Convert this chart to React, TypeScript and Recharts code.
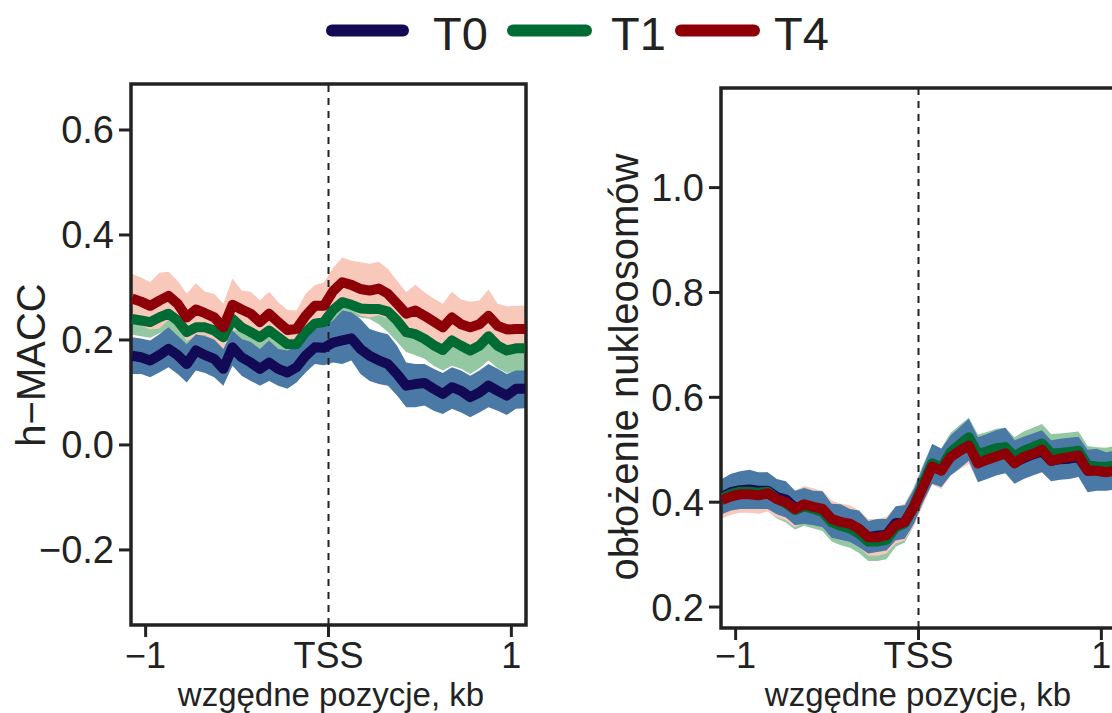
import React from 'react';
import { ComposedChart, Area, Line, XAxis, YAxis, ReferenceLine, ReferenceArea } from 'recharts';

// positions relative to TSS, kb
const positions = [
  -1.075, -1.025, -0.975, -0.925, -0.875, -0.825, -0.775, -0.725, -0.675, -0.625, -0.575,
  -0.525, -0.475, -0.425, -0.375, -0.325, -0.275, -0.225, -0.175, -0.125, -0.075, -0.025,
  0.025, 0.075, 0.125, 0.175, 0.225, 0.275, 0.325, 0.375, 0.425, 0.475, 0.525, 0.575,
  0.625, 0.675, 0.725, 0.775, 0.825, 0.875, 0.925, 0.975, 1.025, 1.075,
];

const seriesNames = ['T0', 'T1', 'T4'];

// left panel: h-MACC
const macT0 = [0.170, 0.167, 0.161, 0.171, 0.183, 0.171, 0.154, 0.180, 0.171, 0.164, 0.145, 0.186, 0.167, 0.157, 0.145, 0.157, 0.145, 0.138, 0.148, 0.170, 0.186, 0.185, 0.195, 0.199, 0.203, 0.183, 0.170, 0.161, 0.154, 0.135, 0.113, 0.116, 0.118, 0.107, 0.097, 0.110, 0.103, 0.091, 0.100, 0.113, 0.103, 0.094, 0.107, 0.107];
const macT0Lo = [0.135, 0.135, 0.129, 0.138, 0.148, 0.135, 0.119, 0.142, 0.137, 0.129, 0.113, 0.151, 0.132, 0.122, 0.113, 0.122, 0.113, 0.107, 0.119, 0.138, 0.154, 0.152, 0.157, 0.154, 0.161, 0.135, 0.122, 0.116, 0.113, 0.094, 0.072, 0.072, 0.075, 0.065, 0.059, 0.069, 0.062, 0.053, 0.062, 0.072, 0.065, 0.057, 0.069, 0.070];
const macT0Hi = [0.205, 0.203, 0.199, 0.211, 0.224, 0.208, 0.192, 0.211, 0.207, 0.201, 0.183, 0.218, 0.202, 0.196, 0.183, 0.199, 0.183, 0.180, 0.186, 0.211, 0.221, 0.226, 0.237, 0.256, 0.253, 0.240, 0.221, 0.215, 0.211, 0.189, 0.157, 0.154, 0.154, 0.145, 0.137, 0.148, 0.142, 0.132, 0.142, 0.154, 0.145, 0.135, 0.142, 0.142];
const macT1 = [0.240, 0.237, 0.234, 0.243, 0.250, 0.237, 0.215, 0.224, 0.224, 0.218, 0.205, 0.240, 0.224, 0.215, 0.205, 0.218, 0.205, 0.192, 0.192, 0.215, 0.231, 0.234, 0.257, 0.272, 0.267, 0.260, 0.259, 0.259, 0.254, 0.237, 0.215, 0.211, 0.202, 0.190, 0.181, 0.199, 0.189, 0.180, 0.189, 0.207, 0.189, 0.180, 0.184, 0.184];
const macT1Lo = [0.210, 0.207, 0.204, 0.213, 0.220, 0.207, 0.185, 0.194, 0.194, 0.188, 0.175, 0.210, 0.194, 0.185, 0.175, 0.188, 0.175, 0.162, 0.162, 0.185, 0.201, 0.204, 0.235, 0.250, 0.246, 0.243, 0.240, 0.230, 0.215, 0.196, 0.177, 0.171, 0.164, 0.151, 0.142, 0.151, 0.145, 0.135, 0.146, 0.161, 0.146, 0.137, 0.140, 0.140];
const macT1Hi = [0.270, 0.267, 0.264, 0.273, 0.280, 0.267, 0.245, 0.254, 0.254, 0.248, 0.235, 0.270, 0.254, 0.245, 0.235, 0.248, 0.235, 0.222, 0.222, 0.245, 0.261, 0.264, 0.279, 0.294, 0.288, 0.277, 0.278, 0.288, 0.293, 0.278, 0.253, 0.251, 0.240, 0.229, 0.220, 0.247, 0.233, 0.225, 0.232, 0.253, 0.232, 0.223, 0.228, 0.228];
const macT4 = [0.279, 0.273, 0.265, 0.275, 0.284, 0.269, 0.243, 0.258, 0.251, 0.243, 0.224, 0.267, 0.258, 0.250, 0.234, 0.250, 0.234, 0.219, 0.221, 0.246, 0.265, 0.265, 0.293, 0.310, 0.305, 0.297, 0.294, 0.298, 0.288, 0.269, 0.250, 0.256, 0.246, 0.235, 0.224, 0.243, 0.230, 0.224, 0.230, 0.246, 0.227, 0.220, 0.221, 0.221];
const macT4Lo = [0.232, 0.227, 0.220, 0.222, 0.238, 0.225, 0.198, 0.208, 0.210, 0.198, 0.179, 0.217, 0.222, 0.208, 0.193, 0.208, 0.196, 0.181, 0.186, 0.204, 0.226, 0.220, 0.249, 0.263, 0.259, 0.246, 0.243, 0.247, 0.241, 0.225, 0.209, 0.207, 0.201, 0.191, 0.179, 0.194, 0.183, 0.175, 0.185, 0.196, 0.185, 0.176, 0.177, 0.177];
const macT4Hi = [0.326, 0.319, 0.310, 0.328, 0.330, 0.313, 0.288, 0.308, 0.292, 0.288, 0.269, 0.317, 0.294, 0.292, 0.275, 0.292, 0.272, 0.257, 0.256, 0.288, 0.304, 0.310, 0.337, 0.357, 0.351, 0.348, 0.345, 0.349, 0.335, 0.313, 0.291, 0.305, 0.291, 0.279, 0.269, 0.292, 0.277, 0.273, 0.275, 0.296, 0.269, 0.264, 0.265, 0.265];

// right panel: nucleosome occupancy
const nucT0 = [0.410, 0.419, 0.423, 0.424, 0.422, 0.422, 0.410, 0.405, 0.389, 0.393, 0.389, 0.386, 0.364, 0.362, 0.355, 0.349, 0.333, 0.336, 0.338, 0.360, 0.362, 0.392, 0.433, 0.473, 0.465, 0.489, 0.503, 0.519, 0.481, 0.487, 0.494, 0.498, 0.476, 0.484, 0.491, 0.497, 0.479, 0.482, 0.483, 0.486, 0.460, 0.462, 0.458, 0.461];
const nucT0Lo = [0.377, 0.384, 0.387, 0.387, 0.387, 0.387, 0.377, 0.371, 0.356, 0.359, 0.356, 0.352, 0.332, 0.328, 0.324, 0.314, 0.302, 0.305, 0.308, 0.327, 0.330, 0.359, 0.400, 0.435, 0.429, 0.451, 0.464, 0.479, 0.438, 0.444, 0.451, 0.455, 0.435, 0.444, 0.451, 0.457, 0.440, 0.443, 0.444, 0.448, 0.419, 0.422, 0.422, 0.424];
const nucT0Hi = [0.444, 0.454, 0.459, 0.462, 0.457, 0.457, 0.444, 0.440, 0.422, 0.427, 0.422, 0.421, 0.397, 0.396, 0.387, 0.384, 0.364, 0.368, 0.368, 0.392, 0.394, 0.425, 0.467, 0.511, 0.502, 0.527, 0.543, 0.559, 0.524, 0.530, 0.537, 0.542, 0.518, 0.525, 0.531, 0.537, 0.518, 0.521, 0.523, 0.525, 0.500, 0.502, 0.495, 0.498];
const nucT1 = [0.407, 0.416, 0.420, 0.420, 0.418, 0.420, 0.406, 0.398, 0.385, 0.392, 0.387, 0.382, 0.362, 0.355, 0.350, 0.340, 0.325, 0.325, 0.328, 0.352, 0.360, 0.392, 0.435, 0.474, 0.466, 0.495, 0.510, 0.524, 0.492, 0.497, 0.503, 0.505, 0.487, 0.498, 0.505, 0.512, 0.493, 0.494, 0.496, 0.498, 0.470, 0.468, 0.467, 0.470];
const nucT1Lo = [0.370, 0.379, 0.383, 0.383, 0.381, 0.383, 0.369, 0.361, 0.348, 0.355, 0.350, 0.345, 0.325, 0.318, 0.313, 0.303, 0.288, 0.288, 0.291, 0.315, 0.323, 0.355, 0.398, 0.437, 0.429, 0.458, 0.473, 0.487, 0.455, 0.460, 0.466, 0.468, 0.450, 0.461, 0.468, 0.475, 0.456, 0.457, 0.459, 0.461, 0.433, 0.431, 0.430, 0.433];
const nucT1Hi = [0.444, 0.453, 0.457, 0.457, 0.455, 0.457, 0.443, 0.435, 0.422, 0.429, 0.424, 0.419, 0.399, 0.392, 0.387, 0.377, 0.362, 0.362, 0.365, 0.389, 0.397, 0.429, 0.472, 0.511, 0.503, 0.532, 0.547, 0.561, 0.529, 0.534, 0.540, 0.542, 0.524, 0.535, 0.542, 0.549, 0.530, 0.531, 0.533, 0.535, 0.507, 0.505, 0.504, 0.507];
const nucT4 = [0.404, 0.411, 0.415, 0.415, 0.413, 0.417, 0.406, 0.400, 0.387, 0.396, 0.391, 0.387, 0.368, 0.362, 0.359, 0.349, 0.333, 0.333, 0.337, 0.356, 0.362, 0.391, 0.429, 0.468, 0.460, 0.486, 0.498, 0.508, 0.474, 0.481, 0.487, 0.493, 0.474, 0.486, 0.492, 0.500, 0.479, 0.483, 0.486, 0.489, 0.460, 0.460, 0.457, 0.460];
const nucT4Lo = [0.369, 0.376, 0.380, 0.380, 0.378, 0.382, 0.371, 0.365, 0.352, 0.361, 0.356, 0.352, 0.333, 0.327, 0.324, 0.314, 0.298, 0.298, 0.302, 0.321, 0.327, 0.356, 0.394, 0.433, 0.425, 0.451, 0.463, 0.473, 0.439, 0.446, 0.452, 0.458, 0.439, 0.451, 0.457, 0.465, 0.444, 0.448, 0.451, 0.454, 0.425, 0.425, 0.422, 0.425];
const nucT4Hi = [0.439, 0.446, 0.450, 0.450, 0.448, 0.452, 0.441, 0.435, 0.422, 0.431, 0.426, 0.422, 0.403, 0.397, 0.394, 0.384, 0.368, 0.368, 0.372, 0.391, 0.397, 0.426, 0.464, 0.503, 0.495, 0.521, 0.533, 0.543, 0.509, 0.516, 0.522, 0.528, 0.509, 0.521, 0.527, 0.535, 0.514, 0.518, 0.521, 0.524, 0.495, 0.495, 0.492, 0.495];

const macTicks = [-0.2, 0, 0.2, 0.4, 0.6];
const nucTicks = [0.2, 0.4, 0.6, 0.8, 1.0];
const xTicks = [-1, 0, 1];

const lineColors = ['#120a55', '#006b32', '#8e0008'];
const bandColors = ['#4b79a6', '#93c8a3', '#f8c8ba'];
const INK = '#222';
const FONT = '"Liberation Sans", Arial, Helvetica, sans-serif';

const minus = (s: string) => s.replace('-', '\u2212');
const fmtY = (v: number) => minus(v.toFixed(1));
const fmtX = (v: number) => (v === 0 ? 'TSS' : minus(String(v)));

const buildRows = (mean: number[][], lo: number[][], hi: number[][]) =>
  positions.map((x, i) => ({
    x,
    t0: mean[0][i], t1: mean[1][i], t4: mean[2][i],
    t0Band: [lo[0][i], hi[0][i]],
    t1Band: [lo[1][i], hi[1][i]],
    t4Band: [lo[2][i], hi[2][i]],
  }));

const macRows = buildRows([macT0, macT1, macT4], [macT0Lo, macT1Lo, macT4Lo], [macT0Hi, macT1Hi, macT4Hi]);
const nucRows = buildRows([nucT0, nucT1, nucT4], [nucT0Lo, nucT1Lo, nucT4Lo], [nucT0Hi, nucT1Hi, nucT4Hi]);

interface PanelProps {
  rows: any[];
  yDomain: [number, number];
  yTicks: number[];
  width: number;
  xTickMargin: number;
  margin: { top: number; right: number; bottom: number; left: number };
}

const X_DOMAIN: [number, number] = [-1.08, 1.08];

const Panel: React.FC<PanelProps> = ({ rows, yDomain, yTicks, width, xTickMargin, margin }) => (
  <ComposedChart width={width} height={713} data={rows} margin={margin}>
    <XAxis
      type="number" dataKey="x" domain={X_DOMAIN} ticks={xTicks} tickFormatter={fmtX}
      allowDataOverflow interval={0} height={60} axisLine={false}
      tickLine={{ stroke: INK, strokeWidth: 3 }} tickSize={12} tickMargin={xTickMargin}
      tick={{ fill: INK, fontSize: 36, fontFamily: FONT }}
    />
    <YAxis
      type="number" domain={yDomain} ticks={yTicks} tickFormatter={fmtY}
      allowDataOverflow interval={0} width={60} axisLine={false}
      tickLine={{ stroke: INK, strokeWidth: 3 }} tickSize={12} tickMargin={5}
      tick={{ fill: INK, fontSize: 38, fontFamily: FONT }}
    />
    <ReferenceLine x={0} stroke={INK} strokeWidth={2} strokeDasharray="7 6" />
    <Area type="linear" dataKey="t1Band" stroke="none" fill={bandColors[1]} fillOpacity={1} isAnimationActive={false} activeDot={false} />
    <Area type="linear" dataKey="t4Band" stroke="none" fill={bandColors[2]} fillOpacity={1} isAnimationActive={false} activeDot={false} />
    <Area type="linear" dataKey="t0Band" stroke="none" fill={bandColors[0]} fillOpacity={1} isAnimationActive={false} activeDot={false} />
    <Line type="linear" dataKey="t0" stroke={lineColors[0]} strokeWidth={10} strokeLinejoin="round" dot={false} activeDot={false} isAnimationActive={false} />
    <Line type="linear" dataKey="t1" stroke={lineColors[1]} strokeWidth={10} strokeLinejoin="round" dot={false} activeDot={false} isAnimationActive={false} />
    <Line type="linear" dataKey="t4" stroke={lineColors[2]} strokeWidth={10} strokeLinejoin="round" dot={false} activeDot={false} isAnimationActive={false} />
    <ReferenceArea x1={X_DOMAIN[0]} x2={X_DOMAIN[1]} y1={yDomain[0]} y2={yDomain[1]} fill="none" stroke={INK} strokeWidth={3.5} ifOverflow="visible" />
  </ComposedChart>
);

const legendX = [
  { line: [332, 403], text: 433 },
  { line: [513, 586], text: 611 },
  { line: [681, 754], text: 774 },
];

export default function App() {
  return (
    <div style={{ position: 'fixed', left: 0, top: 0, width: 1112, height: 713, overflow: 'hidden', background: '#fff', fontFamily: FONT }}>
      <div style={{ position: 'absolute', left: 0, top: 0 }}>
        <Panel rows={macRows} yDomain={[-0.343, 0.6876]} yTicks={macTicks} width={560} xTickMargin={5}
          margin={{ top: 84, right: 34, bottom: 28, left: 71 }} />
      </div>
      <div style={{ position: 'absolute', left: 560, top: 0 }}>
        <Panel rows={nucRows} yDomain={[0.16, 1.19]} yTicks={nucTicks} width={600} xTickMargin={2}
          margin={{ top: 88, right: 44, bottom: 25, left: 101 }} />
      </div>
      <svg width={1112} height={713} style={{ position: 'absolute', left: 0, top: 0, pointerEvents: 'none' }}>
        {seriesNames.map((name, i) => (
          <g key={name}>
            <line x1={legendX[i].line[0]} x2={legendX[i].line[1]} y1={30.5} y2={30.5}
              stroke={lineColors[i]} strokeWidth={12} strokeLinecap="round" />
            <text x={legendX[i].text} y={50} fontSize={47} fill={INK} fontFamily={FONT}>{name}</text>
          </g>
        ))}
        <text x={45} y={365} transform="rotate(-90 45 365)" textAnchor="middle" fontSize={40} fill={INK} fontFamily={FONT}>h{'\u2212'}MACC</text>
        <text x={638} y={367} transform="rotate(-90 638 367)" textAnchor="middle" fontSize={40} fill={INK} fontFamily={FONT}>obłożenie nukleosomów</text>
        <text x={331} y={706} textAnchor="middle" fontSize={33} fill={INK} fontFamily={FONT}>wzgędne pozycje, kb</text>
        <text x={918} y={706} textAnchor="middle" fontSize={33} fill={INK} fontFamily={FONT}>wzgędne pozycje, kb</text>
      </svg>
    </div>
  );
}
